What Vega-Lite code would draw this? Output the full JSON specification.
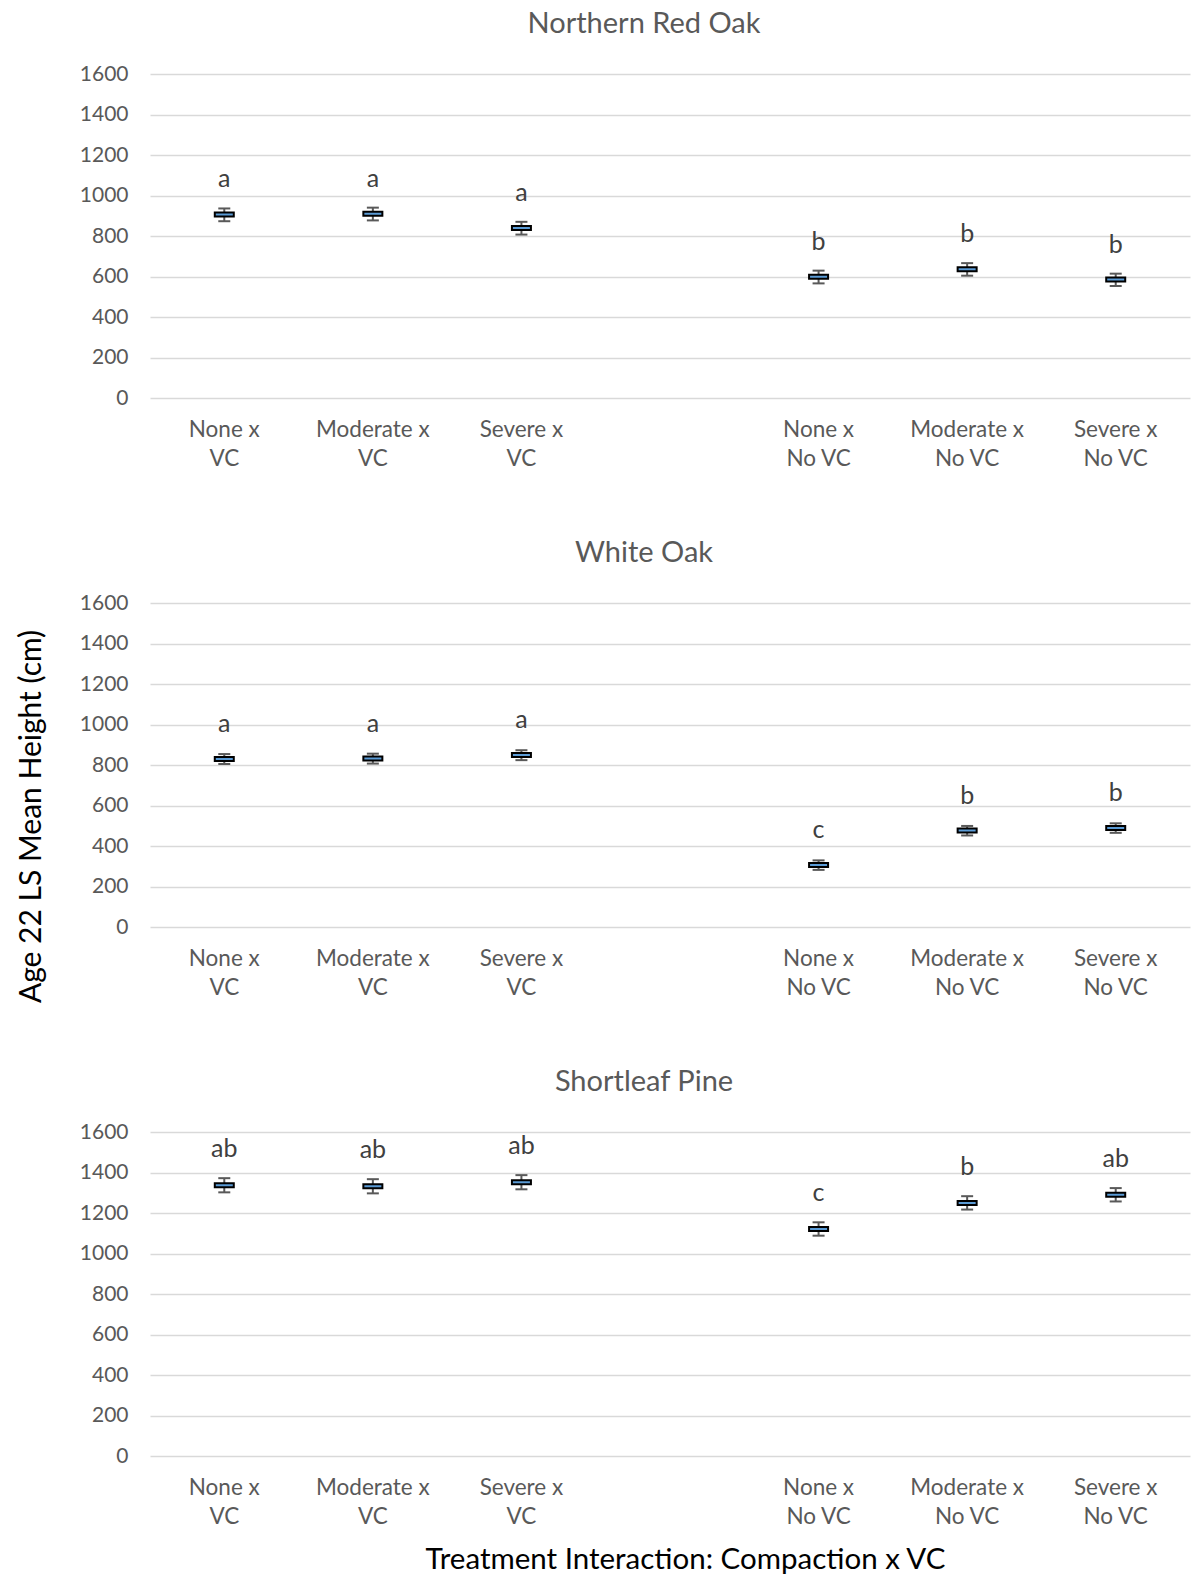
{
  "$schema": "https://vega.github.io/schema/vega-lite/v6.json",
  "background": "white",
  "padding": {"left": 15, "top": 10, "right": 10, "bottom": 2},
  "bounds": "flush",
  "spacing": 205,
  "config": {
    "font": "Lato",
    "view": {"stroke": null},
    "axisX": {"domain": false, "ticks": false, "grid": false, "labelAngle": 0, "labelFontSize": 22.5, "labelColor": "#595959", "labelPadding": 20, "labelLineHeight": 29, "labelBaseline": "top"},
    "axisY": {"domain": false, "ticks": false, "grid": true, "gridColor": "#d9d9d9", "gridWidth": 1.5, "labelFontSize": 21, "labelColor": "#595959", "labelPadding": 22, "format": "d", "values": [0, 200, 400, 600, 800, 1000, 1200, 1400, 1600]},
    "title": {"fontSize": 29, "fontWeight": "normal", "color": "#595959", "offset": 24, "dx": -26, "anchor": "middle", "frame": "group"}
  },
  "datasets": {
    "d": [
      {"species": "Northern Red Oak", "treatment": "None  x VC", "lo": 873, "mean": 906, "hi": 936, "letter": "a"},
      {"species": "Northern Red Oak", "treatment": "Moderate x VC", "lo": 877, "mean": 910, "hi": 940, "letter": "a"},
      {"species": "Northern Red Oak", "treatment": "Severe  x VC", "lo": 807, "mean": 840, "hi": 870, "letter": "a"},
      {"species": "Northern Red Oak", "treatment": "None  x No VC", "lo": 566, "mean": 599, "hi": 629, "letter": "b"},
      {"species": "Northern Red Oak", "treatment": "Moderate x No VC", "lo": 604, "mean": 636, "hi": 666, "letter": "b"},
      {"species": "Northern Red Oak", "treatment": "Severe x No VC", "lo": 553, "mean": 585, "hi": 614, "letter": "b"},
      {"species": "White Oak", "treatment": "None  x VC", "lo": 805, "mean": 830, "hi": 854, "letter": "a"},
      {"species": "White Oak", "treatment": "Moderate x VC", "lo": 807, "mean": 832, "hi": 856, "letter": "a"},
      {"species": "White Oak", "treatment": "Severe  x VC", "lo": 824, "mean": 849, "hi": 873, "letter": "a"},
      {"species": "White Oak", "treatment": "None  x No VC", "lo": 282, "mean": 306, "hi": 329, "letter": "c"},
      {"species": "White Oak", "treatment": "Moderate x No VC", "lo": 452, "mean": 476, "hi": 499, "letter": "b"},
      {"species": "White Oak", "treatment": "Severe x No VC", "lo": 465, "mean": 489, "hi": 512, "letter": "b"},
      {"species": "Shortleaf Pine", "treatment": "None  x VC", "lo": 1302, "mean": 1337, "hi": 1372, "letter": "ab"},
      {"species": "Shortleaf Pine", "treatment": "Moderate x VC", "lo": 1297, "mean": 1332, "hi": 1367, "letter": "ab"},
      {"species": "Shortleaf Pine", "treatment": "Severe  x VC", "lo": 1317, "mean": 1352, "hi": 1387, "letter": "ab"},
      {"species": "Shortleaf Pine", "treatment": "None  x No VC", "lo": 1088, "mean": 1121, "hi": 1154, "letter": "c"},
      {"species": "Shortleaf Pine", "treatment": "Moderate x No VC", "lo": 1217, "mean": 1250, "hi": 1283, "letter": "b"},
      {"species": "Shortleaf Pine", "treatment": "Severe x No VC", "lo": 1257, "mean": 1290, "hi": 1323, "letter": "ab"}
    ]
  },
  "vconcat": [
    {
      "width": 1040, "height": 324,
      "title": {"text": "Northern Red Oak"},
      "data": {"name": "d"},
      "transform": [{"filter": "datum.species === 'Northern Red Oak'"}],
      "encoding": {
        "x": {"field": "treatment", "type": "nominal", "sort": null, "title": null,
          "scale": {"domain": ["None  x VC", "Moderate x VC", "Severe  x VC", " ", "None  x No VC", "Moderate x No VC", "Severe x No VC"], "paddingInner": 0, "paddingOuter": 0},
          "axis": {"labelExpr": "length(datum.value) < 2 ? '' : [slice(datum.value, 0, indexof(datum.value, ' x ') + 2), slice(datum.value, indexof(datum.value, ' x ') + 3)]"}}
      },
      "layer": [
        {"mark": {"type": "rule", "color": "#595959", "strokeWidth": 2},
         "encoding": {"y": {"field": "lo", "type": "quantitative", "scale": {"domain": [0, 1600]}, "title": null}, "y2": {"field": "hi"}}},
        {"mark": {"type": "tick", "size": 12, "thickness": 2, "color": "#595959", "opacity": 1},
         "encoding": {"y": {"field": "lo", "type": "quantitative", "title": null}}},
        {"mark": {"type": "tick", "size": 12, "thickness": 2, "color": "#595959", "opacity": 1},
         "encoding": {"y": {"field": "hi", "type": "quantitative", "title": null}}},
        {"mark": {"type": "tick", "size": 19, "thickness": 4, "fill": "#5B9BD5", "stroke": "#000000", "strokeWidth": 2, "opacity": 1},
         "encoding": {"y": {"field": "mean", "type": "quantitative", "title": null}}},
        {"mark": {"type": "text", "dy": -21, "baseline": "alphabetic", "fontSize": 25, "color": "#404040"},
         "encoding": {"y": {"field": "hi", "type": "quantitative", "title": null}, "text": {"field": "letter"}}}
      ]
    },
    {
      "width": 1040, "height": 324,
      "title": {"text": "White Oak"},
      "data": {"name": "d"},
      "transform": [{"filter": "datum.species === 'White Oak'"}],
      "encoding": {
        "x": {"field": "treatment", "type": "nominal", "sort": null, "title": null,
          "scale": {"domain": ["None  x VC", "Moderate x VC", "Severe  x VC", " ", "None  x No VC", "Moderate x No VC", "Severe x No VC"], "paddingInner": 0, "paddingOuter": 0},
          "axis": {"labelExpr": "length(datum.value) < 2 ? '' : [slice(datum.value, 0, indexof(datum.value, ' x ') + 2), slice(datum.value, indexof(datum.value, ' x ') + 3)]"}}
      },
      "layer": [
        {"mark": {"type": "rule", "color": "#595959", "strokeWidth": 2},
         "encoding": {"y": {"field": "lo", "type": "quantitative", "scale": {"domain": [0, 1600]}, "title": "Age 22 LS Mean Height (cm)",
           "axis": {"titleFontSize": 30, "titleFontWeight": "normal", "titleColor": "#000000", "titleX": -119, "titleY": 213, "titleBaseline": "middle", "titleAlign": "center", "titleAngle": -90}}, "y2": {"field": "hi"}}},
        {"mark": {"type": "tick", "size": 12, "thickness": 2, "color": "#595959", "opacity": 1},
         "encoding": {"y": {"field": "lo", "type": "quantitative", "title": "Age 22 LS Mean Height (cm)"}}},
        {"mark": {"type": "tick", "size": 12, "thickness": 2, "color": "#595959", "opacity": 1},
         "encoding": {"y": {"field": "hi", "type": "quantitative", "title": "Age 22 LS Mean Height (cm)"}}},
        {"mark": {"type": "tick", "size": 19, "thickness": 4, "fill": "#5B9BD5", "stroke": "#000000", "strokeWidth": 2, "opacity": 1},
         "encoding": {"y": {"field": "mean", "type": "quantitative", "title": "Age 22 LS Mean Height (cm)"}}},
        {"mark": {"type": "text", "dy": -22, "baseline": "alphabetic", "fontSize": 25, "color": "#404040"},
         "encoding": {"y": {"field": "hi", "type": "quantitative", "title": "Age 22 LS Mean Height (cm)"}, "text": {"field": "letter"}}}
      ]
    },
    {
      "width": 1040, "height": 324,
      "title": {"text": "Shortleaf Pine"},
      "data": {"name": "d"},
      "transform": [{"filter": "datum.species === 'Shortleaf Pine'"}],
      "encoding": {
        "x": {"field": "treatment", "type": "nominal", "sort": null,
          "scale": {"domain": ["None  x VC", "Moderate x VC", "Severe  x VC", " ", "None  x No VC", "Moderate x No VC", "Severe x No VC"], "paddingInner": 0, "paddingOuter": 0},
          "axis": {"title": "Treatment Interaction: Compaction x VC", "titleFontSize": 29.5, "titleFontWeight": "normal", "titleColor": "#000000", "titleX": 535, "titleY": 103, "titleBaseline": "middle", "titleAlign": "center",
            "labelExpr": "length(datum.value) < 2 ? '' : [slice(datum.value, 0, indexof(datum.value, ' x ') + 2), slice(datum.value, indexof(datum.value, ' x ') + 3)]"}}
      },
      "layer": [
        {"mark": {"type": "rule", "color": "#595959", "strokeWidth": 2},
         "encoding": {"y": {"field": "lo", "type": "quantitative", "scale": {"domain": [0, 1600]}, "title": null}, "y2": {"field": "hi"}}},
        {"mark": {"type": "tick", "size": 12, "thickness": 2, "color": "#595959", "opacity": 1},
         "encoding": {"y": {"field": "lo", "type": "quantitative", "title": null}}},
        {"mark": {"type": "tick", "size": 12, "thickness": 2, "color": "#595959", "opacity": 1},
         "encoding": {"y": {"field": "hi", "type": "quantitative", "title": null}}},
        {"mark": {"type": "tick", "size": 19, "thickness": 4, "fill": "#5B9BD5", "stroke": "#000000", "strokeWidth": 2, "opacity": 1},
         "encoding": {"y": {"field": "mean", "type": "quantitative", "title": null}}},
        {"mark": {"type": "text", "dy": -21, "baseline": "alphabetic", "fontSize": 25, "color": "#404040"},
         "encoding": {"y": {"field": "hi", "type": "quantitative", "title": null}, "text": {"field": "letter"}}}
      ]
    }
  ]
}
